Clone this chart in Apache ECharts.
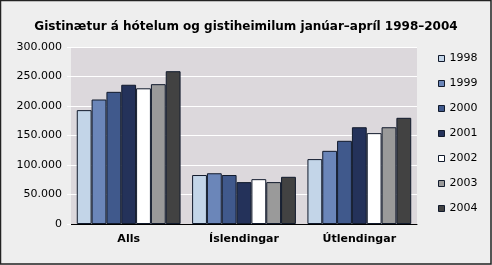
<!DOCTYPE html>
<html><head><meta charset="utf-8">
<script src="https://cdn.jsdelivr.net/npm/echarts@6/dist/echarts.min.js"></script>
<style>html,body{margin:0;padding:0;background:#eeeeee}#c{width:492px;height:265px}</style>
</head><body><div id="c"></div>
<script>
const categories = ['Alls', 'Íslendingar', 'Útlendingar'];
const years = ['1998', '1999', '2000', '2001', '2002', '2003', '2004'];
const v1998 = [193000, 83000, 110000];
const v1999 = [211000, 86000, 124000];
const v2000 = [224000, 83000, 141000];
const v2001 = [236000, 71000, 164000];
const v2002 = [230000, 76000, 154000];
const v2003 = [237000, 71000, 164000];
const v2004 = [259000, 80000, 180000];
const yTicks = [0, 50000, 100000, 150000, 200000, 250000, 300000];
const values = [v1998, v1999, v2000, v2001, v2002, v2003, v2004];
const colors = ['#c3d5e8', '#6b86b9', '#40598c', '#24325a', '#ffffff', '#9a9a9a', '#424242'];

function fmt(v) { return String(v).replace(/\B(?=(\d{3})+(?!\d))/g, '.'); }

const chart = echarts.init(document.getElementById('c'), null, {renderer: 'canvas'});
chart.setOption({
  backgroundColor: '#eeeeee',
  animation: false,
  textStyle: {fontFamily: 'DejaVu Sans'},
  title: {
    text: 'Gistinætur á hótelum og gistiheimilum janúar–apríl 1998–2004',
    left: 'center', top: 16,
    textStyle: {fontFamily: 'DejaVu Sans', fontWeight: 'bold', fontSize: 12, color: '#000'}
  },
  legend: {
    orient: 'vertical', left: 433, top: 48, itemGap: 14,
    itemWidth: 6, itemHeight: 6, icon: 'rect',
    itemStyle: {borderColor: '#111a2c', borderWidth: 1},
    textStyle: {fontFamily: 'DejaVu Sans', fontSize: 11, color: '#000'},
    data: years
  },
  grid: {left: 71, top: 47, width: 346, height: 177, show: true, backgroundColor: '#dcd8dc', borderWidth: 0},
  xAxis: {
    type: 'category', data: categories,
    axisLine: {lineStyle: {color: '#000', width: 1}},
    axisTick: {show: false},
    axisLabel: {fontFamily: 'DejaVu Sans', fontWeight: 'bold', fontSize: 11, color: '#000', margin: 10}
  },
  yAxis: {
    type: 'value', min: 0, max: 300000, interval: 50000,
    axisLine: {show: false},
    axisTick: {show: true, length: 4, lineStyle: {color: '#ffffff'}},
    splitLine: {lineStyle: {color: '#ffffff', width: 1}},
    axisLabel: {fontFamily: 'DejaVu Sans', fontSize: 11, color: '#000', margin: 9,
      formatter: function (v) { return yTicks.indexOf(v) >= 0 ? fmt(v) : ''; }}
  },
  series: years.map(function (y, i) {
    return {
      name: y, type: 'bar', data: values[i],
      barGap: '0%', barCategoryGap: '10%',
      itemStyle: {color: colors[i], borderColor: '#111a2c', borderWidth: 1}
    };
  }),
  graphic: [{
    type: 'rect', shape: {x: 0.5, y: 0.5, width: 490.5, height: 263.5},
    style: {fill: 'none', stroke: '#222', lineWidth: 1.5}, silent: true, z: 100
  }]
});
</script></body></html>
